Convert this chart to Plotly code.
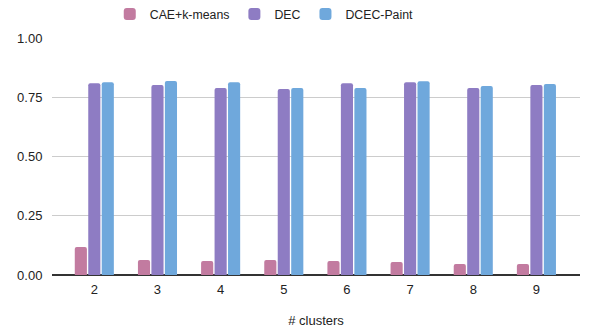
import plotly.graph_objects as go

clusters = ["2", "3", "4", "5", "6", "7", "8", "9"]
cae_kmeans = [0.118, 0.063, 0.059, 0.063, 0.059, 0.055, 0.046, 0.046]
dec = [0.809, 0.802, 0.789, 0.785, 0.809, 0.813, 0.789, 0.802]
dcec_paint = [0.813, 0.819, 0.813, 0.789, 0.789, 0.817, 0.797, 0.806]

series = [
    ("CAE+k-means", cae_kmeans, "#c27ba0"),
    ("DEC", dec, "#8e7cc3"),
    ("DCEC-Paint", dcec_paint, "#6fa8dc"),
]

fig = go.Figure()
for name, vals, color in series:
    fig.add_trace(go.Bar(x=clusters, y=vals, name=name, marker_color=color,
                         marker_line_width=0))

# page body has an 8px margin, so the figure is a bit smaller and shifted
fig.update_layout(
    width=590, height=328,
    margin=dict(l=44, r=18, t=30, b=61, autoexpand=False),
    paper_bgcolor="white", plot_bgcolor="white",
    font=dict(family="Arial, Liberation Sans, sans-serif", size=13, color="#222222"),
    barmode="group", bargap=0.36, bargroupgap=0.1, barcornerradius=2,
    showlegend=True,
    legend=dict(orientation="h", x=0.402, xanchor="center",
                y=1.101, yanchor="middle",
                itemwidth=30, font=dict(size=12.3, color="#222222")),
)
fig.update_xaxes(
    type="category", range=[-0.67, 7.69],
    showgrid=False, showline=False, zeroline=False,
    ticks="outside", ticklen=2, tickcolor="rgba(0,0,0,0)",
    title=dict(text="# clusters", standoff=20, font=dict(size=13)),
)
fig.update_yaxes(
    range=[0, 1], tickvals=[0, 0.25, 0.5, 0.75, 1.0],
    ticktext=["0.00", "0.25", "0.50", "0.75", "1.00"],
    showgrid=True, gridcolor="#cccccc", gridwidth=1,
    zeroline=True, zerolinecolor="#333333", zerolinewidth=1.5,
    ticks="outside", ticklen=6, tickcolor="rgba(0,0,0,0)",
)

fig.write_html("out.html")
